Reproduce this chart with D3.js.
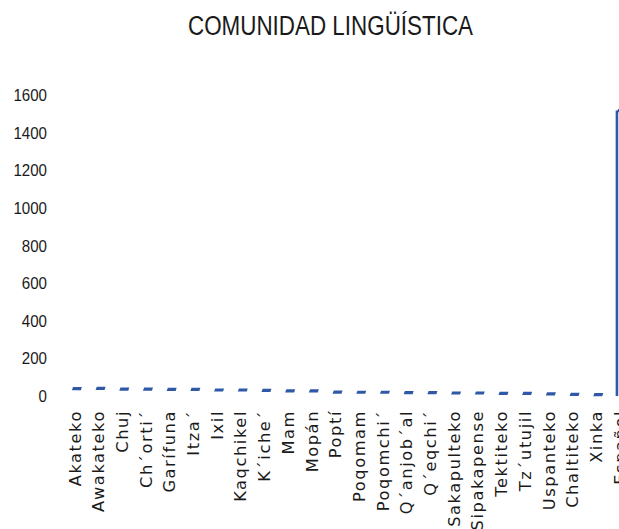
<!DOCTYPE html>
<html>
<head>
<meta charset="utf-8">
<script src="https://cdn.jsdelivr.net/npm/d3@7"></script>
<style>
  html, body { margin: 0; padding: 0; background: #fff; }
  svg { display: block; }
</style>
</head>
<body>
<script>
// Chart data
const categories = ['Akateko', 'Awakateko', 'Chuj', 'Ch\u00b4orti\u00b4', 'Gar\u00edfuna', 'Itza\u00b4', 'Ixil',
  'Kaqchikel', 'K\u00b4iche\u00b4', 'Mam', 'Mop\u00e1n', 'Popt\u00ed', 'Poqomam', 'Poqomchi\u00b4',
  'Q\u00b4anjob\u00b4al', 'Q\u00b4eqchi\u00b4', 'Sakapulteko', 'Sipakapense', 'Tektiteko', 'Tz\u00b4utujil',
  'Uspanteko', 'Chaltiteko', 'Xinka', 'Espa\u00f1ol'];
const values = [39, 41, 37, 37, 35, 35, 32, 32, 30, 27, 27, 21, 20, 20, 18, 18, 16, 16, 14, 14, 11, 9, 7, 1520];
const yTicks = [0, 200, 400, 600, 800, 1000, 1200, 1400, 1600];
const title = 'COMUNIDAD LING\u00dc\u00cdSTICA';

const width = 619;
const height = 529;
const blue = '#2f58a6';
const font = '"Liberation Sans", Arial, sans-serif';

const svg = d3.select('body').append('svg')
  .attr('width', width)
  .attr('height', height);

svg.append('rect')
  .attr('width', width)
  .attr('height', height)
  .attr('fill', '#fff');

// x: one band per language, the plot runs past the right edge (cut off like the original)
const x = d3.scaleBand()
  .domain(categories)
  .range([65, 65 + 23.7 * categories.length]);

const y = d3.scaleLinear()
  .domain([0, 1600])
  .range([396, 95.5]);

// Title (condensed look, squeezed to the original width)
svg.append('text')
  .attr('x', 188)
  .attr('y', 35)
  .attr('font-family', font)
  .attr('font-size', 27)
  .attr('textLength', 285)
  .attr('lengthAdjust', 'spacingAndGlyphs')
  .attr('fill', '#1a1a1a')
  .text(title);

// y axis labels only (no line, no ticks)
const yAxis = svg.append('g')
  .attr('transform', 'translate(47,0)')
  .call(d3.axisLeft(y).tickValues(yTicks).tickFormat(d3.format('d')).tickSize(0).tickPadding(0));
yAxis.select('.domain').remove();
yAxis.selectAll('text')
  .attr('font-family', font)
  .attr('font-size', 16.5)
  .attr('fill', '#1a1a1a')
  .attr('textLength', d => String(d).length * 8.4)
  .attr('lengthAdjust', 'spacingAndGlyphs');

// x axis labels, rotated
const xAxis = svg.append('g')
  .attr('transform', 'translate(0,410)')
  .call(d3.axisBottom(x).tickSize(0).tickPadding(0));
xAxis.select('.domain').remove();
xAxis.selectAll('text')
  .attr('font-family', '"DejaVu Sans", sans-serif')
  .attr('font-size', 16.2)
  .attr('letter-spacing', 1.6)
  .attr('fill', '#1a1a1a')
  .attr('text-anchor', 'end')
  .attr('dy', '0.35em')
  .attr('transform', 'rotate(-90) translate(0,-2)');

// drop line from the left end of a mark down to zero, where it stands clear of the axis
svg.selectAll('.drop')
  .data(values.map((v, i) => ({ cat: categories[i], v })).filter(d => d.v > 100))
  .enter().append('line')
  .attr('class', 'drop')
  .attr('x1', d => x(d.cat) + x.bandwidth() / 2 - 5)
  .attr('x2', d => x(d.cat) + x.bandwidth() / 2 - 5)
  .attr('y1', d => y(d.v))
  .attr('y2', y(0))
  .attr('stroke', blue)
  .attr('stroke-width', 2.6);

// dash markers at each value
svg.selectAll('.mark')
  .data(values)
  .enter().append('path')
  .attr('class', 'mark')
  .attr('d', (d, i) => {
    const cx = x(categories[i]) + x.bandwidth() / 2;
    const cy = y(d);
    return `M${cx - 5},${cy + 1.6} L${cx - 3.8},${cy - 1.6} L${cx + 5},${cy - 1.6} L${cx + 4},${cy + 1.6} Z`;
  })
  .attr('fill', blue);
</script>
</body>
</html>
